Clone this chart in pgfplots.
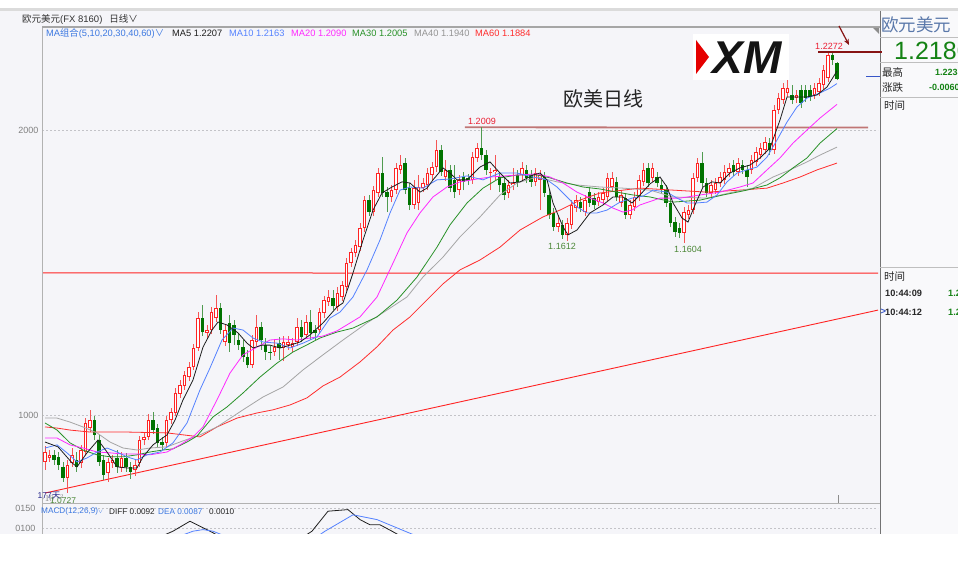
\documentclass[border=0pt]{standalone}
\usepackage{fontspec}
\usepackage{pgfplots}
\usepackage{pgfplotstable}
\pgfplotsset{compat=1.18}
\usetikzlibrary{arrows.meta}
\setmainfont{Liberation Sans}
\newfontfamily\cjk{Noto Sans CJK SC}
\definecolor{bgc}{RGB}{245,245,249}
\definecolor{panelbg}{RGB}{249,249,251}
\definecolor{upc}{RGB}{255,35,35}
\definecolor{upw}{RGB}{245,85,85}
\definecolor{dnc}{RGB}{0,115,0}
\definecolor{dnw}{RGB}{80,155,80}
\definecolor{ma5}{RGB}{30,30,30}
\definecolor{ma10}{RGB}{85,130,255}
\definecolor{ma20}{RGB}{255,40,255}
\definecolor{ma30}{RGB}{40,145,40}
\definecolor{ma40}{RGB}{165,165,165}
\definecolor{ma60}{RGB}{255,45,45}
\definecolor{dkred}{RGB}{135,20,20}
\definecolor{lblgreen}{RGB}{75,135,55}
\definecolor{lblred}{RGB}{235,30,50}
\definecolor{panelblue}{RGB}{90,120,170}
\definecolor{legblue}{RGB}{60,120,225}
\definecolor{pgreen}{RGB}{20,130,20}
\definecolor{gridc}{RGB}{195,195,200}
\definecolor{markblue}{RGB}{55,85,200}
\definecolor{navy}{RGB}{40,40,140}

\pgfplotstableread{
x o h l c
0 1.0835 1.0891 1.0807 1.0870
1 1.0849 1.0877 1.0835 1.0860
5 1.0779 1.0842 1.0727 1.0825
6 1.0832 1.0884 1.0818 1.0860
8 1.0832 1.0895 1.0814 1.0877
9 1.0870 1.0989 1.0860 1.0972
10 1.0954 1.1018 1.0940 1.0982
14 1.0797 1.0849 1.0765 1.0835
15 1.0832 1.0860 1.0814 1.0842
17 1.0814 1.0870 1.0800 1.0849
20 1.0807 1.0842 1.0786 1.0825
21 1.0832 1.0926 1.0818 1.0912
22 1.0912 1.0940 1.0895 1.0923
23 1.0923 1.1004 1.0912 1.0982
27 1.0902 1.0996 1.0888 1.0982
28 1.0982 1.1025 1.0968 1.1011
29 1.1007 1.1095 1.0996 1.1077
30 1.1074 1.1123 1.1060 1.1105
31 1.1102 1.1154 1.1088 1.1140
32 1.1133 1.1186 1.1119 1.1168
33 1.1168 1.1249 1.1158 1.1235
34 1.1235 1.1361 1.1225 1.1340
36 1.1288 1.1316 1.1270 1.1298
37 1.1298 1.1379 1.1284 1.1361
38 1.1340 1.1421 1.1326 1.1375
40 1.1256 1.1316 1.1242 1.1298
46 1.1175 1.1281 1.1165 1.1263
47 1.1256 1.1351 1.1242 1.1309
51 1.1221 1.1263 1.1207 1.1238
53 1.1235 1.1277 1.1189 1.1256
54 1.1245 1.1277 1.1228 1.1256
55 1.1238 1.1270 1.1221 1.1252
56 1.1256 1.1340 1.1242 1.1309
58 1.1281 1.1351 1.1267 1.1326
61 1.1298 1.1375 1.1284 1.1361
62 1.1358 1.1418 1.1340 1.1403
63 1.1397 1.1439 1.1382 1.1414
65 1.1379 1.1449 1.1365 1.1428
66 1.1414 1.1470 1.1400 1.1456
67 1.1449 1.1551 1.1435 1.1533
68 1.1533 1.1586 1.1519 1.1572
69 1.1568 1.1614 1.1554 1.1596
70 1.1589 1.1674 1.1575 1.1656
71 1.1656 1.1768 1.1642 1.1754
73 1.1712 1.1803 1.1698 1.1789
74 1.1779 1.1867 1.1765 1.1849
77 1.1765 1.1807 1.1747 1.1789
78 1.1789 1.1884 1.1775 1.1867
79 1.1860 1.1912 1.1846 1.1877
82 1.1737 1.1825 1.1723 1.1796
83 1.1744 1.1842 1.1719 1.1800
84 1.1796 1.1832 1.1782 1.1814
85 1.1807 1.1867 1.1789 1.1849
86 1.1842 1.1888 1.1825 1.1870
87 1.1870 1.1965 1.1853 1.1930
89 1.1835 1.1895 1.1821 1.1860
92 1.1789 1.1842 1.1772 1.1825
95 1.1825 1.1923 1.1811 1.1905
96 1.1902 1.1954 1.1888 1.1937
99 1.1849 1.1867 1.1789 1.1853
100 1.1853 1.1912 1.1825 1.1860
103 1.1779 1.1825 1.1761 1.1807
104 1.1807 1.1867 1.1789 1.1814
106 1.1842 1.1888 1.1825 1.1867
109 1.1818 1.1867 1.1803 1.1849
110 1.1825 1.1860 1.1719 1.1842
114 1.1660 1.1702 1.1642 1.1674
116 1.1632 1.1691 1.1612 1.1674
117 1.1667 1.1754 1.1653 1.1737
118 1.1726 1.1772 1.1712 1.1754
120 1.1712 1.1772 1.1698 1.1754
123 1.1747 1.1782 1.1733 1.1765
124 1.1754 1.1796 1.1740 1.1779
125 1.1765 1.1849 1.1751 1.1832
126 1.1800 1.1853 1.1786 1.1832
128 1.1744 1.1789 1.1730 1.1772
130 1.1702 1.1754 1.1688 1.1737
131 1.1730 1.1782 1.1716 1.1765
132 1.1765 1.1842 1.1751 1.1825
133 1.1818 1.1884 1.1803 1.1860
135 1.1832 1.1884 1.1818 1.1867
142 1.1639 1.1730 1.1604 1.1712
143 1.1702 1.1737 1.1688 1.1719
144 1.1719 1.1849 1.1705 1.1832
145 1.1832 1.1902 1.1818 1.1884
148 1.1779 1.1825 1.1765 1.1807
149 1.1789 1.1832 1.1775 1.1814
150 1.1814 1.1853 1.1800 1.1835
151 1.1825 1.1877 1.1811 1.1853
152 1.1849 1.1884 1.1835 1.1867
154 1.1853 1.1902 1.1839 1.1884
157 1.1860 1.1912 1.1846 1.1895
158 1.1888 1.1940 1.1874 1.1923
159 1.1912 1.1954 1.1898 1.1937
160 1.1930 1.1975 1.1916 1.1958
162 1.1930 1.2088 1.1916 1.2070
163 1.2070 1.2130 1.2056 1.2112
164 1.2105 1.2165 1.2091 1.2147
165 1.2130 1.2175 1.2116 1.2147
167 1.2112 1.2140 1.2095 1.2123
171 1.2123 1.2165 1.2109 1.2147
172 1.2133 1.2182 1.2119 1.2165
173 1.2158 1.2228 1.2144 1.2211
174 1.2182 1.2270 1.2168 1.2263
}\up

\pgfplotstableread{
x o h l c
2 1.0860 1.0877 1.0825 1.0842
3 1.0853 1.0870 1.0807 1.0825
4 1.0818 1.0835 1.0765 1.0779
7 1.0842 1.0870 1.0800 1.0818
11 1.0982 1.0996 1.0912 1.0930
12 1.0912 1.0930 1.0821 1.0835
13 1.0842 1.0860 1.0772 1.0790
16 1.0849 1.0877 1.0797 1.0818
18 1.0849 1.0867 1.0800 1.0818
19 1.0818 1.0835 1.0775 1.0800
24 1.0982 1.1011 1.0933 1.0947
25 1.0954 1.0968 1.0884 1.0902
26 1.0905 1.0923 1.0877 1.0895
35 1.1340 1.1386 1.1277 1.1291
39 1.1375 1.1393 1.1284 1.1298
41 1.1323 1.1351 1.1221 1.1252
42 1.1316 1.1333 1.1245 1.1281
43 1.1263 1.1288 1.1228 1.1245
44 1.1238 1.1263 1.1186 1.1203
45 1.1203 1.1228 1.1165 1.1175
48 1.1309 1.1326 1.1228 1.1263
49 1.1245 1.1270 1.1193 1.1221
50 1.1221 1.1242 1.1193 1.1218
52 1.1252 1.1274 1.1193 1.1235
57 1.1309 1.1333 1.1256 1.1274
59 1.1326 1.1368 1.1263 1.1288
60 1.1298 1.1316 1.1263 1.1288
64 1.1410 1.1439 1.1368 1.1382
72 1.1754 1.1772 1.1698 1.1712
75 1.1849 1.1905 1.1765 1.1779
76 1.1782 1.1800 1.1712 1.1765
80 1.1884 1.1902 1.1775 1.1789
81 1.1796 1.1814 1.1719 1.1737
88 1.1930 1.1947 1.1839 1.1853
90 1.1860 1.1877 1.1782 1.1796
91 1.1825 1.1877 1.1761 1.1782
93 1.1835 1.1853 1.1789 1.1818
94 1.1832 1.1846 1.1807 1.1825
97 1.1937 1.2009 1.1895 1.1912
98 1.1912 1.1930 1.1842 1.1860
101 1.1835 1.1853 1.1782 1.1807
102 1.1814 1.1832 1.1754 1.1772
105 1.1842 1.1860 1.1800 1.1818
107 1.1860 1.1877 1.1814 1.1832
108 1.1842 1.1860 1.1800 1.1818
111 1.1835 1.1853 1.1765 1.1779
112 1.1772 1.1789 1.1688 1.1702
113 1.1709 1.1726 1.1646 1.1660
115 1.1667 1.1684 1.1618 1.1632
119 1.1747 1.1765 1.1712 1.1726
121 1.1782 1.1800 1.1730 1.1744
122 1.1761 1.1779 1.1723 1.1737
127 1.1818 1.1835 1.1751 1.1765
129 1.1761 1.1779 1.1688 1.1702
134 1.1867 1.1884 1.1800 1.1814
136 1.1835 1.1853 1.1800 1.1814
137 1.1807 1.1825 1.1775 1.1789
138 1.1789 1.1807 1.1730 1.1744
139 1.1744 1.1761 1.1660 1.1674
140 1.1677 1.1695 1.1625 1.1642
141 1.1656 1.1674 1.1621 1.1639
146 1.1884 1.1923 1.1800 1.1814
147 1.1814 1.1832 1.1765 1.1779
153 1.1877 1.1895 1.1839 1.1853
155 1.1877 1.1895 1.1846 1.1860
156 1.1860 1.1877 1.1800 1.1835
161 1.1954 1.1972 1.1912 1.1930
166 1.2123 1.2158 1.2091 1.2105
168 1.2140 1.2158 1.2077 1.2095
169 1.2140 1.2158 1.2098 1.2112
170 1.2140 1.2158 1.2102 1.2116
175 1.2263 1.2272 1.2228 1.2246
176 1.2235 1.2238 1.2175 1.2180
}\dn

\begin{document}
\begin{tikzpicture}
\useasboundingbox (0pt,0pt) rectangle (979pt,560pt);
\fill[bgc] (0pt,0pt) rectangle (979pt,560pt);

% ===== main price axis =====
\begin{axis}[
  at={(42pt,57pt)}, anchor=south west,
  scale only axis, width=836pt, height=475pt,
  xmin=-0.667, xmax=185.11, ymin=1.0691, ymax=1.2358,
  axis background/.style={fill=bgc},
  axis line style={draw=none},
  xtick=\empty,
  ytick={1.1,1.2}, yticklabels={1000,2000},
  major tick length=0pt,
  yticklabel style={font=\fontsize{9}{9}\selectfont, text=black!50},
  /pgf/number format/assume math mode=true,
  ymajorgrids, grid style={gridc, dash pattern=on 2pt off 2pt, line width=0.7pt},
]
% support level, resistance level and trend line
\addplot[draw=upc, color=upc, line width=1pt, mark=none, forget plot] coordinates {(-0.667,1.14985) (185.11,1.14975)};
\addplot[draw={rgb,255:red,192;green,118;blue,118}, line width=1.8pt, mark=none, forget plot] coordinates {(93.3,1.20095) (182.9,1.20085)};
\addplot[draw=upc, color=upc, line width=0.9pt, mark=none, forget plot] coordinates {(0,1.0726) (185.11,1.1368)};

% wicks
\addplot[draw=none, forget plot, error bars/.cd, y dir=plus, y explicit, error mark=none,
  error bar style={draw=upw, line width=0.9pt}]
  table[x=x, y=l, y error plus expr={\thisrow{h}-\thisrow{l}}] {\up};
\addplot[draw=none, forget plot, error bars/.cd, y dir=plus, y explicit, error mark=none,
  error bar style={draw=dnw, line width=0.9pt}]
  table[x=x, y=l, y error plus expr={\thisrow{h}-\thisrow{l}}] {\dn};
% bodies
\addplot[draw=none, forget plot, error bars/.cd, y dir=plus, y explicit, error mark=none,
  error bar style={draw=upc, line width=3.2pt}]
  table[x=x, y=o, y error plus expr={\thisrow{c}-\thisrow{o}}] {\up};
\addplot[draw=none, forget plot, error bars/.cd, y dir=plus, y explicit, error mark=none,
  error bar style={draw=white, line width=1.7pt}]
  table[x=x, y expr={\thisrow{o}+0.00025}, y error plus expr={max(\thisrow{c}-\thisrow{o}-0.0005,0)}] {\up};
\addplot[draw=none, forget plot, error bars/.cd, y dir=plus, y explicit, error mark=none,
  error bar style={draw=dnc, line width=3.2pt}]
  table[x=x, y=c, y error plus expr={\thisrow{o}-\thisrow{c}}] {\dn};

% moving averages
\addplot[color=ma60, line width=0.8pt, mark=none] coordinates {(0,1.0958)(2.67,1.0954)(5.56,1.0947)(10,1.0940)(18.22,1.0940)(27.11,1.0937)(34.44,1.0923)(38.22,1.0958)(42.67,1.0989)(47.11,1.1007)(50.67,1.1018)(54.44,1.1035)(58.22,1.1060)(61.78,1.1102)(65.56,1.1133)(70,1.1186)(73.78,1.1239)(77.33,1.1298)(81.11,1.1344)(84.89,1.1404)(88.44,1.1460)(92.22,1.1509)(96.67,1.1544)(101.11,1.1589)(105.56,1.1649)(110.67,1.1695)(114.44,1.1719)(118.89,1.1754)(123.33,1.1779)(128.44,1.1789)(132.22,1.1796)(139.56,1.1789)(147.11,1.1782)(154.44,1.1789)(160.44,1.1796)(164,1.1814)(167.78,1.1835)(171.56,1.1860)(176,1.1884)};
\addplot[color=ma40, line width=0.8pt, mark=none] coordinates {(0,1.0989)(2.67,1.0989)(5.56,1.0975)(8.44,1.0958)(11.56,1.0937)(14.44,1.0905)(17.33,1.0884)(20.44,1.0877)(23.33,1.0884)(27.11,1.0888)(30.67,1.0909)(34.44,1.0930)(38.22,1.0958)(44,1.1018)(48.44,1.1063)(52.89,1.1098)(57.33,1.1158)(61.78,1.1211)(66.22,1.1263)(71.56,1.1323)(76,1.1368)(80.44,1.1414)(84,1.1484)(88.44,1.1554)(92.22,1.1625)(96.67,1.1695)(101.11,1.1772)(104.89,1.1814)(109.33,1.1835)(113.78,1.1818)(118.22,1.1807)(123.33,1.1800)(128.44,1.1796)(134.44,1.1789)(139.56,1.1765)(147.11,1.1761)(152.89,1.1782)(157.33,1.1796)(161.78,1.1835)(165.56,1.1860)(169.33,1.1888)(172.22,1.1912)(176,1.1940)};
\addplot[color=ma30, line width=0.8pt, mark=none] coordinates {(0,1.0972)(2.67,1.0947)(5.56,1.0902)(8.44,1.0877)(11.56,1.0860)(14.44,1.0853)(17.33,1.0853)(20.44,1.0860)(23.33,1.0870)(26.22,1.0877)(28.44,1.0881)(31.56,1.0905)(33.78,1.0926)(37.33,1.0993)(40.44,1.1028)(44,1.1077)(47.78,1.1133)(51.56,1.1182)(55.11,1.1221)(58.22,1.1246)(61.11,1.1270)(64.89,1.1291)(68.44,1.1305)(73.78,1.1344)(78.22,1.1403)(82.67,1.1484)(87.11,1.1589)(90,1.1667)(93.78,1.1744)(97.33,1.1796)(101.11,1.1832)(104.89,1.1842)(109.33,1.1842)(112.22,1.1832)(116,1.1814)(119.56,1.1800)(123.33,1.1793)(127.11,1.1782)(130.67,1.1772)(134.44,1.1765)(139.56,1.1747)(145.56,1.1754)(150.67,1.1772)(156,1.1789)(160.44,1.1807)(163.33,1.1832)(166.22,1.1867)(169.33,1.1902)(172.22,1.1954)(176,1.2005)};
\addplot[color=ma20, line width=0.8pt, mark=none] coordinates {(0,1.0919)(2.67,1.0919)(5.56,1.0895)(8.44,1.0884)(11.56,1.0870)(14.44,1.0867)(17.33,1.0863)(20.44,1.0863)(23.33,1.0860)(27.11,1.0870)(30,1.0895)(32.89,1.0923)(35.11,1.0958)(38.22,1.1053)(41.11,1.1147)(44,1.1211)(47.11,1.1238)(50,1.1263)(52.89,1.1267)(56,1.1263)(58.89,1.1270)(61.78,1.1277)(64.89,1.1295)(70,1.1344)(73.78,1.1414)(77.33,1.1533)(80.44,1.1639)(83.33,1.1709)(86.22,1.1765)(89.33,1.1800)(92.22,1.1818)(96,1.1828)(98.89,1.1835)(104.89,1.1842)(109.33,1.1846)(112.22,1.1835)(115.11,1.1814)(118.22,1.1782)(121.11,1.1761)(124,1.1744)(126.22,1.1726)(128.44,1.1712)(130.44,1.1719)(132.22,1.1737)(136.67,1.1761)(141.11,1.1761)(145.56,1.1772)(150,1.1782)(154.44,1.1800)(157.33,1.1814)(160.44,1.1860)(163.33,1.1902)(166.22,1.1954)(169.33,1.2000)(172.22,1.2042)(176,1.2090)};
\addplot[color=ma10, line width=0.8pt, mark=none] coordinates {(0,1.0884)(2.67,1.0895)(4.89,1.0867)(7.11,1.0835)(9.33,1.0849)(11.56,1.0870)(13.78,1.0884)(16,1.0870)(18.22,1.0853)(20.44,1.0842)(22.67,1.0860)(25.56,1.0870)(28.44,1.0902)(31.56,1.0972)(34.44,1.1088)(36.67,1.1165)(39.33,1.1263)(41.78,1.1305)(44,1.1298)(46.22,1.1270)(48.44,1.1256)(51.56,1.1252)(54.44,1.1235)(57.33,1.1252)(60.44,1.1274)(63.33,1.1340)(65.56,1.1361)(68.44,1.1414)(71.56,1.1509)(74.44,1.1614)(76.67,1.1709)(78.89,1.1789)(81.11,1.1800)(84,1.1796)(87.11,1.1825)(90,1.1828)(93.78,1.1839)(97.33,1.1825)(101.11,1.1849)(104.89,1.1849)(108.44,1.1835)(111.56,1.1825)(113.78,1.1800)(116,1.1765)(118.22,1.1730)(120.44,1.1709)(122.67,1.1709)(124.89,1.1719)(127.78,1.1747)(130.44,1.1761)(132.89,1.1768)(135.11,1.1789)(138.22,1.1782)(140.44,1.1761)(142.67,1.1744)(144.89,1.1744)(147.11,1.1747)(149.33,1.1772)(151.56,1.1818)(153.78,1.1849)(156,1.1860)(158.22,1.1870)(160.44,1.1905)(162.67,1.1965)(164.89,1.2028)(167.11,1.2081)(169.33,1.2112)(172.22,1.2130)(174.44,1.2147)(176,1.2163)};
\addplot[color=ma5, line width=0.8pt, mark=none] coordinates {(0,1.0905)(2.89,1.0888)(6,1.0832)(7.11,1.0818)(9.33,1.0867)(11.78,1.0912)(13.78,1.0870)(16,1.0818)(18.22,1.0814)(20.44,1.0814)(21.78,1.0853)(24,1.0895)(27.11,1.0930)(28.89,1.0982)(30.67,1.1053)(32.89,1.1123)(35.11,1.1238)(37.11,1.1298)(38.44,1.1326)(40.44,1.1316)(42.89,1.1288)(44.89,1.1252)(46.22,1.1235)(48.22,1.1245)(50,1.1245)(52.22,1.1235)(54.44,1.1245)(56.67,1.1256)(58.89,1.1281)(61.78,1.1323)(64.89,1.1379)(66.22,1.1393)(68.44,1.1498)(70.67,1.1614)(72.89,1.1719)(74.89,1.1779)(77.11,1.1800)(79.33,1.1818)(81.11,1.1814)(83.33,1.1782)(84.89,1.1796)(86.22,1.1825)(88.44,1.1867)(90,1.1849)(91.56,1.1825)(93.78,1.1825)(96.67,1.1870)(98.89,1.1888)(101.11,1.1849)(103.33,1.1814)(105.56,1.1818)(108.44,1.1842)(110,1.1849)(111.56,1.1825)(112.89,1.1744)(115.11,1.1660)(116.22,1.1632)(118.22,1.1649)(121.11,1.1709)(124,1.1737)(126.22,1.1765)(128.44,1.1765)(130.44,1.1744)(132.22,1.1772)(134.44,1.1811)(136.67,1.1835)(138.22,1.1800)(139.56,1.1744)(141.56,1.1691)(142.89,1.1677)(144.44,1.1737)(146.22,1.1800)(148.22,1.1818)(150,1.1814)(152.22,1.1849)(154.44,1.1867)(156.67,1.1877)(158.89,1.1902)(161.11,1.1937)(163.33,1.2035)(164.89,1.2116)(167.11,1.2116)(169.33,1.2116)(171.56,1.2123)(173.78,1.2151)(176,1.2207)};
\end{axis}

% ===== MACD axis =====
\begin{axis}[
  at={(42pt,27pt)}, anchor=south west,
  scale only axis, width=836pt, height=30pt,
  xmin=-0.667, xmax=185.11, ymin=0.00875, ymax=0.01625,
  axis line style={draw=none},
  xtick=\empty,
  ytick={0.010,0.015}, yticklabels={0100,0150},
  major tick length=0pt,
  yticklabel style={font=\fontsize{9}{9}\selectfont, text=black!50, xshift=-3pt},
  ymajorgrids, grid style={gridc, dash pattern=on 2pt off 2pt, line width=0.7pt},
]
\addplot[color=ma5, line width=0.8pt, mark=none] coordinates {(25,0.0075)(28.44,0.0092)(32.22,0.0117)(36.67,0.0092)(39,0.0078)};
\addplot[color=ma10, line width=0.8pt, mark=none] coordinates {(30,0.0080)(32.89,0.0092)(35.11,0.0096)(37.33,0.0092)(40,0.0080)};
\addplot[color=ma5, line width=0.8pt, mark=none] coordinates {(57,0.0075)(59.33,0.0092)(62.89,0.0142)(67.33,0.0146)(70,0.0121)(72.22,0.0108)(74.44,0.0108)(77.11,0.0092)(79,0.0080)};
\addplot[color=ma10, line width=0.8pt, mark=none] coordinates {(60,0.0075)(62.22,0.0092)(68.44,0.0133)(73.78,0.0121)(80,0.0092)(83,0.0078)};
\end{axis}

% ===== decorations (pixel coordinates, y downwards) =====
\begin{scope}[x=1pt, y=-1pt, yshift=560pt]
  % header
  \fill[white] (0,0) rectangle (979,8);
  \fill[black!14] (0,8) rectangle (958,11);
  \draw[black!35, line width=1.6pt] (42,27.2) -- (880,27.2);
  \draw[black!30, line width=0.8pt] (42,28) -- (42,534);
  \draw[black!30, line width=0.8pt] (42,503.5) -- (880,503.5);
  \fill[black!45] (873,28) -- (879,28) -- (879,34) -- cycle;
  \draw[black!45, line width=0.6pt] (838,495) -- (838,503);

  \node[anchor=west, inner sep=0pt, text=black!80, font=\fontsize{9.5}{9.5}\selectfont] at (22,19.5)
     {{\cjk 欧元美元}(FX 8160)\hspace{7pt}{\cjk 日线∨}};

  % MA legend
  \begin{scope}[every node/.style={anchor=west, inner sep=0pt, font=\fontsize{9.3}{9.3}\selectfont}]
    \node[text=legblue] at (46,33.5) {MA{\cjk 组合}(5,10,20,30,40,60){\cjk ∨}};
    \node[text=ma5] at (172,33.5) {MA5 1.2207};
    \node[text=ma10] at (229,33.5) {MA10 1.2163};
    \node[text=ma20] at (291,33.5) {MA20 1.2090};
    \node[text=ma30] at (352,33.5) {MA30 1.2005};
    \node[text=ma40!90!black] at (414,33.5) {MA40 1.1940};
    \node[text=ma60] at (475,33.5) {MA60 1.1884};
    % MACD legend
    \node[text=legblue, font=\fontsize{8.2}{8.2}\selectfont] at (41,511.5) {MACD(12,26,9)$\scriptstyle\vee$};
    \node[text=black!85, font=\fontsize{8.2}{8.2}\selectfont] at (109,511.5) {DIFF 0.0092};
    \node[text=legblue, font=\fontsize{8.2}{8.2}\selectfont] at (158,511.5) {DEA 0.0087};
    \node[text=black!85, font=\fontsize{8.2}{8.2}\selectfont] at (209,511.5) {0.0010};
  \end{scope}

  % title
  \node[font=\cjk\fontsize{20}{20}\selectfont, text=black!85] at (603,99) {欧美日线};

  % XM logo
  \fill[white] (693,34) rectangle (789,80);
  \fill[red!90!black] (696,40) -- (709,57) -- (696,74) -- cycle;
  \node[font=\fontsize{46}{46}\selectfont\bfseries\itshape, text=black!92, inner sep=0pt] at (747,58) {XM};

  % annotations
  \node[text=lblred, font=\fontsize{9}{9}\selectfont] at (829,46) {1.2272};
  \node[text=lblred, font=\fontsize{9}{9}\selectfont] at (482,121) {1.2009};
  \node[text=lblgreen, font=\fontsize{9}{9}\selectfont] at (562,246.5) {1.1612};
  \node[text=lblgreen, font=\fontsize{9}{9}\selectfont] at (688,249) {1.1604};
  \node[text=lblgreen, font=\fontsize{8.5}{8.5}\selectfont] at (63,500.5) {1.0727};
  \node[text=navy, font=\fontsize{8.5}{8.5}\selectfont] at (49,496) {177{\cjk 天}};
  \draw[dkred, line width=1.2pt, -{Stealth[length=6pt,width=5pt]}] (839,26) -- (849,45);
  \draw[dkred, line width=2.6pt] (818,52) -- (881,52);
  \draw[markblue, line width=1pt] (866,77) -- (880,77);

  % right panel
  \fill[panelbg] (880.5,11) rectangle (958,534);
  \draw[black!55, line width=1pt] (880,11) -- (880,534);
  \draw[black!25, line width=0.8pt] (880,37.5) -- (958,37.5);
  \draw[black!25, line width=0.8pt] (880,62.5) -- (958,62.5);
  \draw[black!25, line width=0.8pt] (880,97) -- (958,97);
  \draw[black!25, line width=0.8pt] (880,267) -- (958,267);
  \draw[dkred, line width=2.6pt] (880,52) -- (881.5,52);
  \node[anchor=west, inner sep=0pt, text=panelblue, font=\cjk\fontsize{17.5}{17.5}\selectfont] at (881,24.5) {欧元美元};
  \node[anchor=west, inner sep=0pt, text=pgreen, font=\fontsize{25}{25}\selectfont] at (894,51) {1.2180};
  \node[anchor=west, inner sep=0pt, text=black!85, font=\cjk\fontsize{10.5}{10.5}\selectfont] at (882,72) {最高};
  \node[anchor=west, inner sep=0pt, text=pgreen, font=\bfseries\fontsize{9}{9}\selectfont] at (935,72) {1.2235};
  \node[anchor=west, inner sep=0pt, text=black!85, font=\cjk\fontsize{10.5}{10.5}\selectfont] at (882,87.5) {涨跌};
  \node[anchor=west, inner sep=0pt, text=pgreen, font=\bfseries\fontsize{9}{9}\selectfont] at (929,87.5) {-0.0060};
  \node[anchor=west, inner sep=0pt, text=black!85, font=\cjk\fontsize{10.5}{10.5}\selectfont] at (884,106) {时间};
  \node[anchor=west, inner sep=0pt, text=black!85, font=\cjk\fontsize{10.5}{10.5}\selectfont] at (884,276.5) {时间};
  \node[anchor=west, inner sep=0pt, text=black!85, font=\bfseries\fontsize{9.2}{9.2}\selectfont] at (885,293.5) {10:44:09};
  \node[anchor=west, inner sep=0pt, text=pgreen, font=\bfseries\fontsize{9.2}{9.2}\selectfont] at (948,293.5) {1.2};
  \node[anchor=west, inner sep=0pt, text=markblue, font=\bfseries\fontsize{9.2}{9.2}\selectfont] at (880.5,312) {>};
  \node[anchor=west, inner sep=0pt, text=black!85, font=\bfseries\fontsize{9.2}{9.2}\selectfont] at (885,312) {10:44:12};
  \node[anchor=west, inner sep=0pt, text=pgreen, font=\bfseries\fontsize{9.2}{9.2}\selectfont] at (948,312) {1.2};

  % screenshot cut-offs
  \fill[white] (958,0) rectangle (979,560);
  \fill[white] (0,534) rectangle (979,560);
\end{scope}
\end{tikzpicture}
\end{document}
